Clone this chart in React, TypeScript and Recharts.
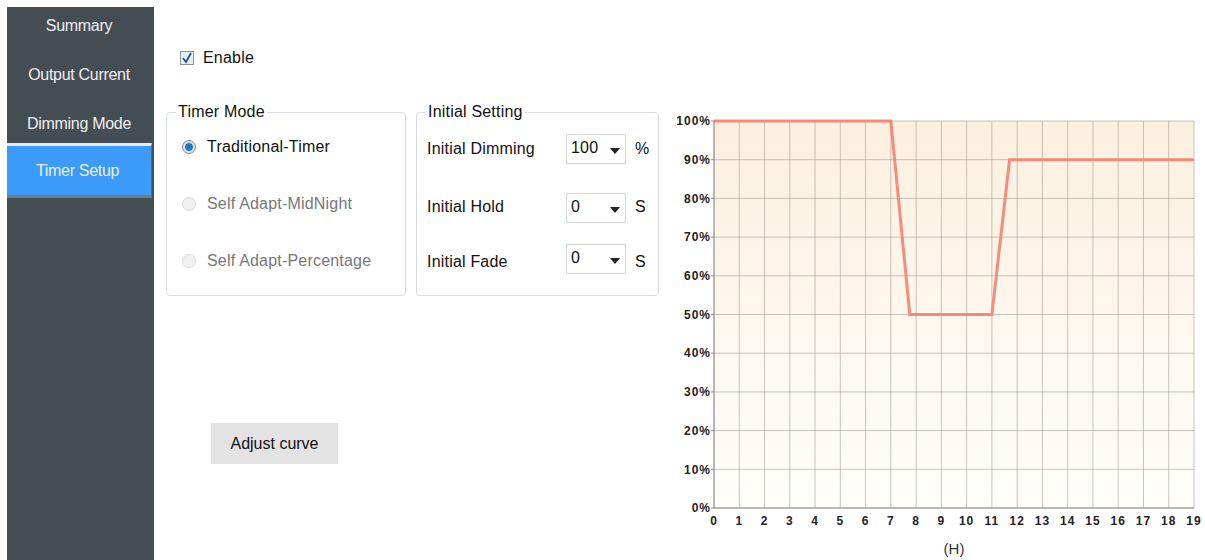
import { LineChart, Line, XAxis, YAxis, CartesianGrid, Label } from "recharts";

// dimming curve: hour -> percent
const hours = [0, 7, 7.75, 11, 11.7, 19];
const dimming = [100, 100, 50, 50, 90, 90];
const hourTicks = [0, 1, 2, 3, 4, 5, 6, 7, 8, 9, 10, 11, 12, 13, 14, 15, 16, 17, 18, 19];
const percentTicks = [0, 10, 20, 30, 40, 50, 60, 70, 80, 90, 100];

const menuItems = ["Summary", "Output Current", "Dimming Mode", "Timer Setup"];
const timerModes = ["Traditional-Timer", "Self Adapt-MidNight", "Self Adapt-Percentage"];
const settingLabels = ["Initial Dimming", "Initial Hold", "Initial Fade"];
const settingValues = ["100", "0", "0"];
const settingUnits = ["%", "S", "S"];

const chartData = hours.map((h, i) => ({ hour: h, value: dimming[i] }));

const font = '"Liberation Sans", Arial, sans-serif';

function Radio({ checked, top, label }: { checked: boolean; top: number; label: string }) {
    return (
        <div style={{ position: "absolute", left: 182, top: top - 9, display: "flex", alignItems: "center" }}>
            <span
                style={{
                    width: 14,
                    height: 14,
                    borderRadius: "50%",
                    border: checked ? "1px solid #7f8a96" : "1px solid #dcdcdc",
                    background: checked ? "radial-gradient(circle, #1f78b8 0 3.5px, #dde3ea 4.5px)" : "#efefef",
                    boxSizing: "border-box",
                }}
            />
            <span style={{ marginLeft: 11, color: checked ? "#111" : "#777" }}>{label}</span>
        </div>
    );
}

function Select({ top, value }: { top: number; value: string }) {
    return (
        <div
            style={{
                position: "absolute",
                left: 566,
                top,
                width: 60,
                height: 30,
                border: "1px solid #d6d6d6",
                boxSizing: "border-box",
                background: "#fff",
            }}
        >
            <span style={{ position: "absolute", left: 4, top: 4 }}>{value}</span>
            <svg width="10" height="6" style={{ position: "absolute", left: 43, top: 13 }}>
                <path d="M0 0 L10 0 L5 6 Z" fill="#222" />
            </svg>
        </div>
    );
}

function Group({ left, width, title }: { left: number; width: number; title: string }) {
    return (
        <div
            style={{
                position: "absolute",
                left,
                top: 112,
                width,
                height: 184,
                border: "1px solid #d8dde2",
                borderRadius: 4,
                boxSizing: "border-box",
            }}
        >
            <span style={{ position: "absolute", left: 9, top: -10, background: "#fff", padding: "0 2px", lineHeight: "18px" }}>
                {title}
            </span>
        </div>
    );
}

// x axis unit label, drawn under the tick labels
const HourUnit = ({ viewBox }: any) => (
    <text
        x={viewBox.x + viewBox.width / 2}
        y={viewBox.y + viewBox.height - 6}
        textAnchor="middle"
        fontSize={15}
        fill="#333"
        fontFamily={font}
    >
        (H)
    </text>
);

export default function App() {
    const rowTops = [149, 207, 262];
    const selectTops = [134, 193, 244];
    return (
        <div
            style={{
                position: "absolute",
                left: 0,
                top: 0,
                width: 1205,
                height: 560,
                background: "#fff",
                fontFamily: font,
                fontSize: 16,
                letterSpacing: 0.2,
                color: "#111",
                overflow: "hidden",
            }}
        >
            {/* side menu */}
            <div style={{ position: "absolute", left: 7, top: 7, width: 147, height: 553, background: "#454d54" }}>
                {menuItems.map((m, i) => {
                    const active = i === menuItems.length - 1;
                    return (
                        <div
                            key={m}
                            style={{
                                position: "absolute",
                                left: 0,
                                top: active ? 136 : i * 49,
                                width: active ? 145 : 147,
                                height: active ? 55 : 37,
                                lineHeight: active ? "50px" : "37px",
                                textAlign: "center",
                                color: "#eee",
                                background: active ? "#3a9bf8" : "transparent",
                                borderTop: active ? "3px solid #e8ecf0" : "none",
                                borderBottom: active ? "3px solid #6d7c8a" : "none",
                                borderRight: active ? "1px solid #2f6fa8" : "none",
                                boxSizing: "border-box",
                                letterSpacing: -0.3,
                                paddingRight: 3,
                            }}
                        >
                            {m}
                        </div>
                    );
                })}
            </div>

            {/* enable checkbox */}
            <div style={{ position: "absolute", left: 180, top: 49, display: "flex", alignItems: "center" }}>
                <span
                    style={{
                        width: 14,
                        height: 14,
                        border: "1px solid #8a9098",
                        background: "#e9eef3",
                        boxSizing: "border-box",
                        position: "relative",
                    }}
                >
                    <svg width="12" height="12" style={{ position: "absolute", left: 0, top: 0 }}>
                        <path d="M2 6 L5 10 L10 1" stroke="#2d4f9a" strokeWidth="1.8" fill="none" />
                    </svg>
                </span>
                <span style={{ marginLeft: 9 }}>Enable</span>
            </div>

            <Group left={166} width={240} title="Timer Mode" />
            <Group left={416} width={243} title="Initial Setting" />

            {timerModes.map((t, i) => (
                <Radio key={t} checked={i === 0} top={[147, 204, 261][i]} label={t} />
            ))}

            {settingLabels.map((l, i) => (
                <div key={l}>
                    <span style={{ position: "absolute", left: 427, top: rowTops[i] - 9 }}>{l}</span>
                    <Select top={selectTops[i]} value={settingValues[i]} />
                    <span style={{ position: "absolute", left: 635, top: rowTops[i] - 9 }}>{settingUnits[i]}</span>
                </div>
            ))}

            {/* adjust curve button */}
            <div
                style={{
                    position: "absolute",
                    left: 211,
                    top: 423,
                    width: 127,
                    height: 41,
                    background: "#e3e3e3",
                    lineHeight: "41px",
                    textAlign: "center",
                    letterSpacing: 0,
                }}
            >
                Adjust curve
            </div>

            {/* timer curve chart */}
            <div style={{ position: "absolute", left: 660, top: 100, letterSpacing: 0 }}>
                <LineChart width={545} height={460} data={chartData} margin={{ top: 21, right: 11, bottom: 0, left: 0 }}>
                    <defs>
                        <linearGradient id="plotBg" x1="0" y1="0" x2="0" y2="1">
                            <stop offset="0%" stopColor="#fcf0df" />
                            <stop offset="100%" stopColor="#fffefb" />
                        </linearGradient>
                    </defs>
                    <CartesianGrid fill="url(#plotBg)" stroke="#9c978f" strokeOpacity={0.55} />
                    <XAxis
                        dataKey="hour"
                        type="number"
                        domain={[0, 19]}
                        ticks={hourTicks}
                        interval={0}
                        height={52}
                        stroke="#8f8f8f"
                        tickLine={false}
                        tickSize={6}
                        tickMargin={2}
                        tick={{ fontSize: 12, fontWeight: "bold", fill: "#222", fontFamily: font, letterSpacing: 1 }}
                    >
                        <Label content={HourUnit} />
                    </XAxis>
                    <YAxis
                        type="number"
                        domain={[0, 100]}
                        ticks={percentTicks}
                        interval={0}
                        width={54}
                        stroke="#8f8f8f"
                        tickSize={3}
                        tickMargin={0}
                        tickFormatter={(v: number) => v + "%"}
                        tick={{ fontSize: 12, fontWeight: "bold", fill: "#222", fontFamily: font, letterSpacing: 1 }}
                    />
                    <Line
                        type="linear"
                        dataKey="value"
                        stroke="#f8806f"
                        strokeWidth={3}
                        strokeOpacity={0.9}
                        dot={false}
                        activeDot={false}
                        isAnimationActive={false}
                    />
                </LineChart>
            </div>
        </div>
    );
}
